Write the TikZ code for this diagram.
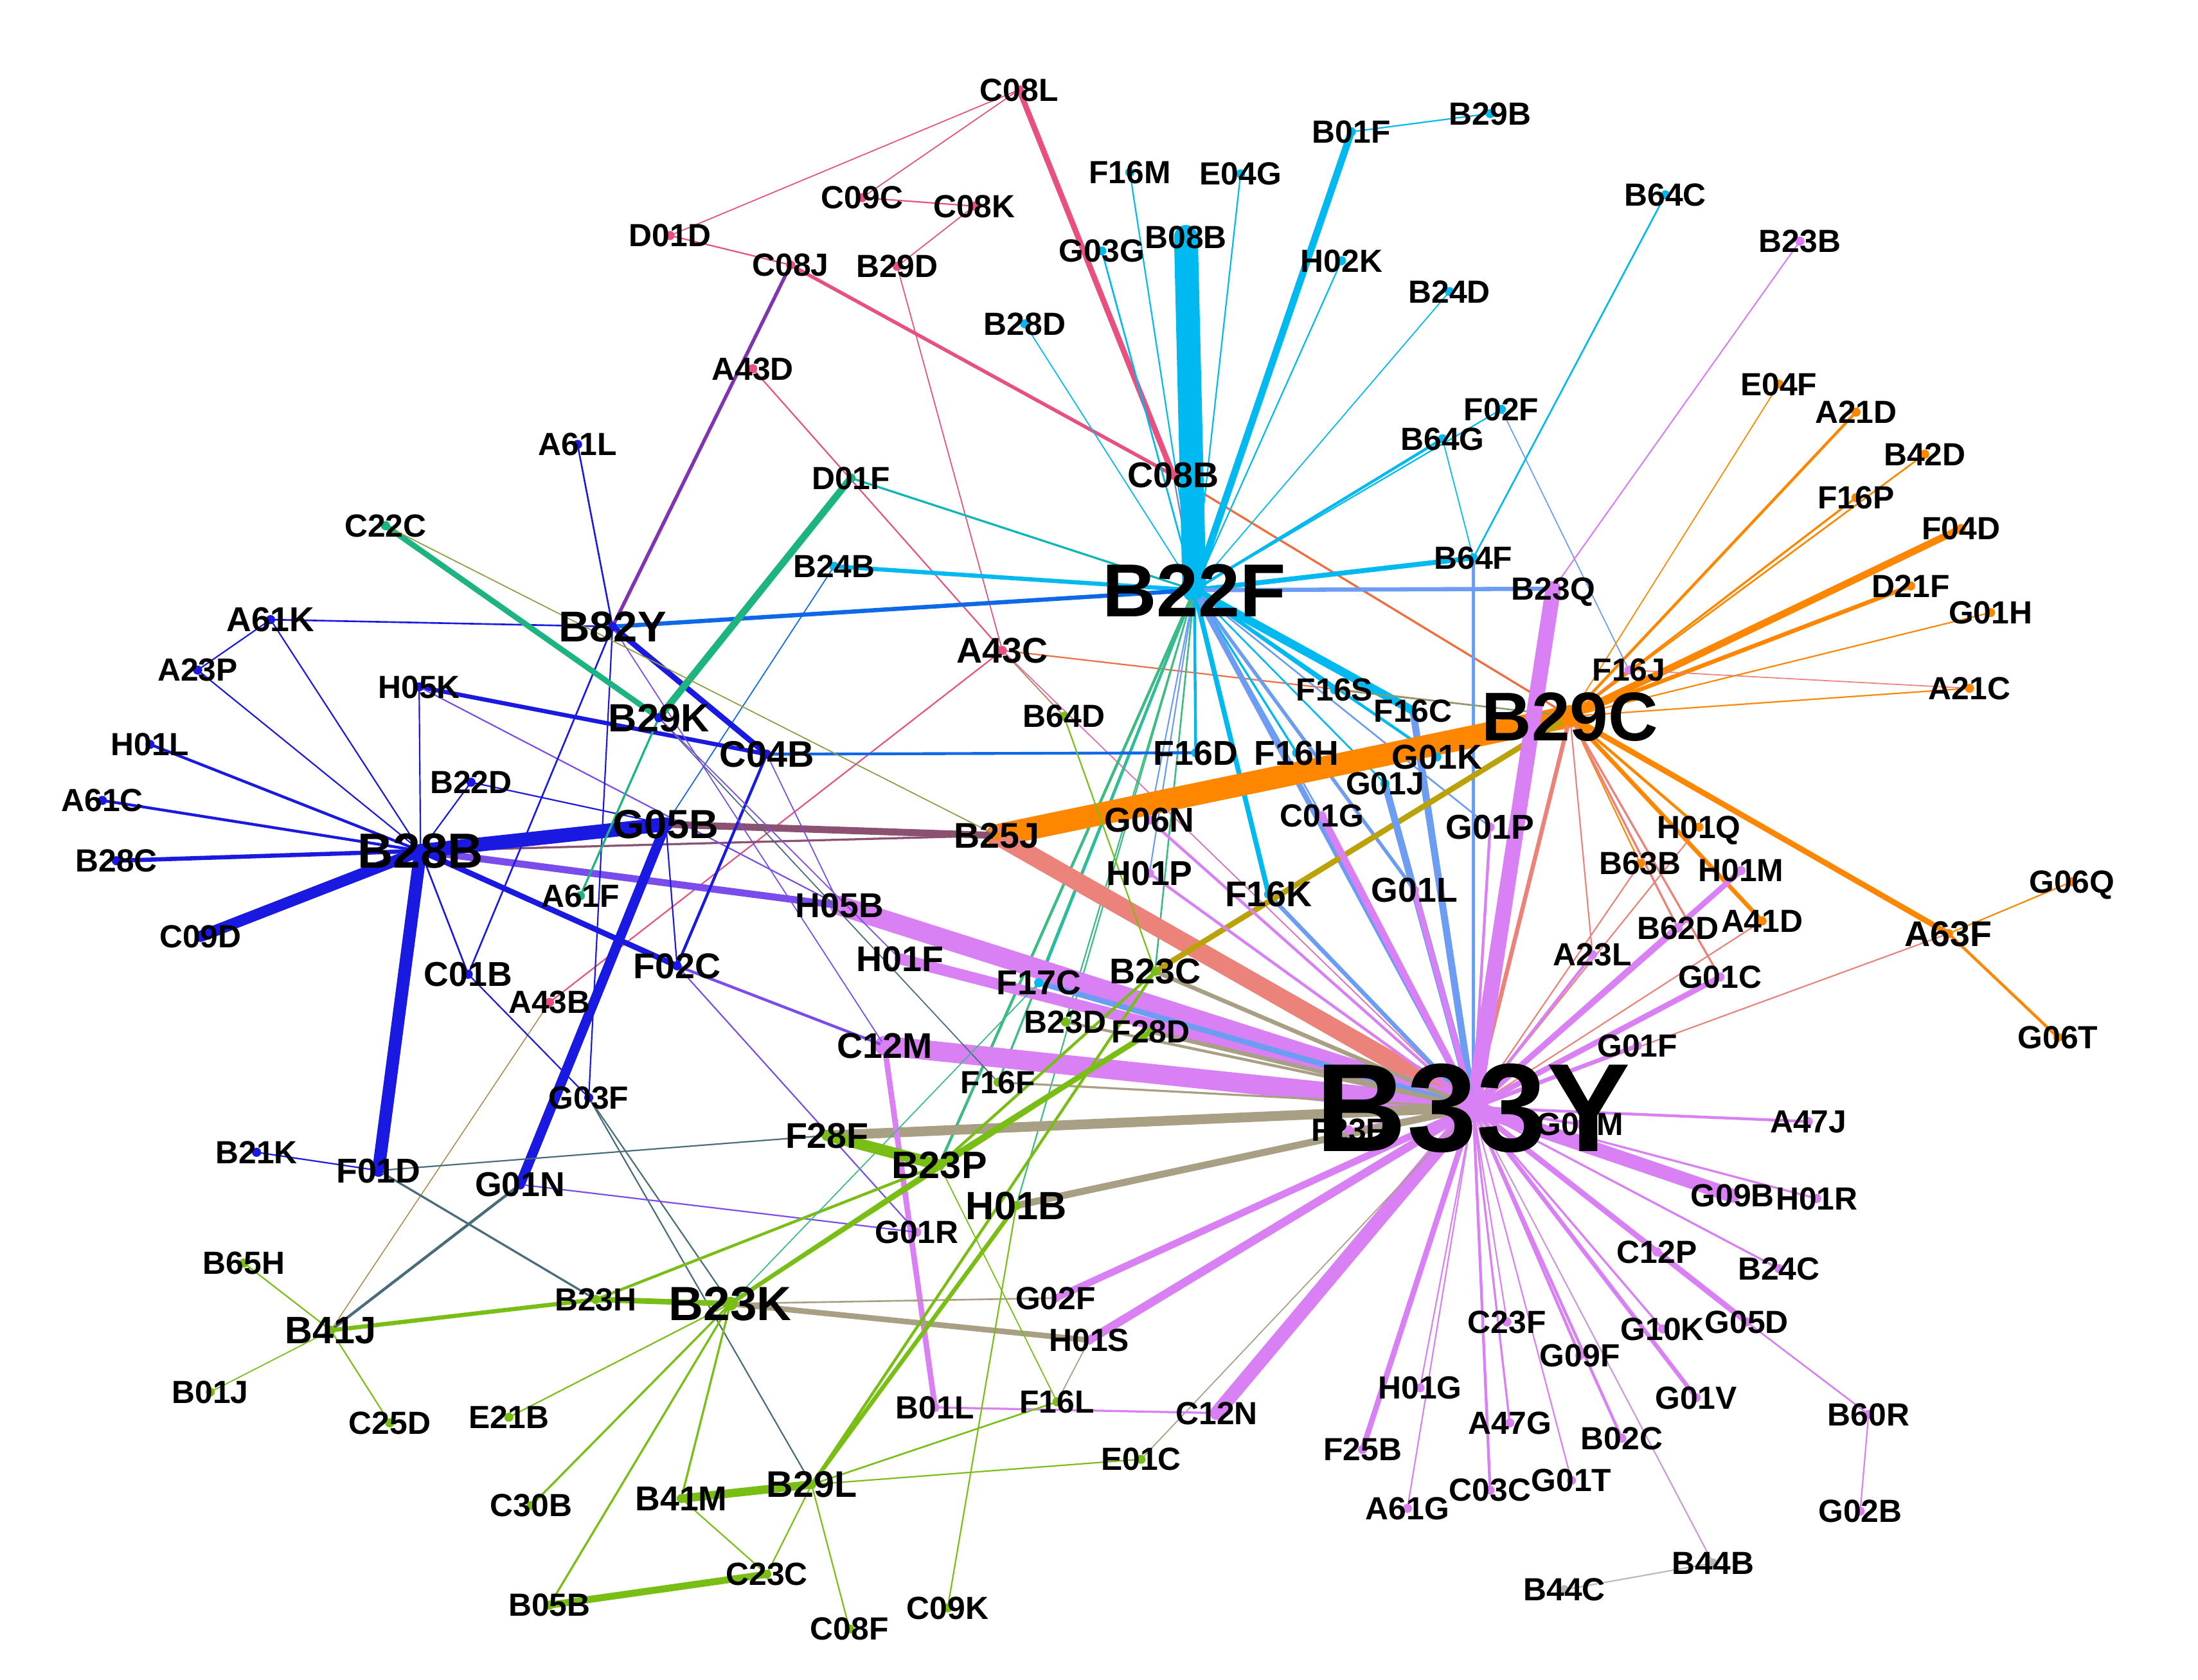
\documentclass[tikz,border=0pt]{standalone}
\usepackage{fontspec}
\setmainfont{Liberation Sans}
\definecolor{colCy}{RGB}{0,185,240}
\definecolor{colOr}{RGB}{255,135,0}
\definecolor{colVi}{RGB}{218,128,245}
\definecolor{colBl}{RGB}{25,25,225}
\definecolor{colGr}{RGB}{120,190,20}
\definecolor{colPk}{RGB}{232,80,125}
\definecolor{colTl}{RGB}{30,180,130}
\definecolor{colGy}{RGB}{185,185,185}
\pgfdeclarelayer{bgl}
\pgfdeclarelayer{edges}
\pgfdeclarelayer{dots}
\pgfsetlayers{bgl,edges,dots,main}
\tikzset{lbl/.style={inner sep=0pt, text depth=0pt, text=black}, link/.style={line cap=round}}
\newcommand\gnode[5][13]{%
  \node[lbl,font=\fontsize{#1}{#1}\selectfont\bfseries] (#2) at (#3,#4) {#2};%
  \expandafter\xdef\csname nc#2\endcsname{#5}%
  \begin{pgfonlayer}{dots}\fill[#5] (#2.center) circle[radius=0.065cm];\end{pgfonlayer}%
}
\newcommand\gedge[3]{%
  \edef\ecol{\csname nc#1\endcsname!50!\csname nc#2\endcsname}%
  \begin{pgfonlayer}{edges}\draw[link,line width=#3*0.02cm,draw=\ecol] (#1.center) -- (#2.center);\end{pgfonlayer}%
}
\newcommand\gedgec[4]{%
  \begin{pgfonlayer}{edges}\draw[link,line width=#3*0.02cm,draw=#4] (#1.center) -- (#2.center);\end{pgfonlayer}%
}
\newcommand\bigdot[3]{\begin{pgfonlayer}{dots}\fill[#3] (#1.center) circle[radius=#2*0.02cm];\end{pgfonlayer}}
\begin{document}
\begin{tikzpicture}[x=0.02cm,y=-0.02cm]
\begin{pgfonlayer}{bgl}
\fill[white] (0,0) rectangle (1568,1198);
\end{pgfonlayer}
\useasboundingbox (0,0) rectangle (1568,1198);
% ---------- nodes ----------
\gnode{C08L}{727}{64}{colPk}
\gnode{B29B}{1063}{81}{colCy}
\gnode{B01F}{964}{94}{colCy}
\gnode{F16M}{806}{123}{colCy}
\gnode{E04G}{885}{124}{colCy}
\gnode{C09C}{615}{141}{colPk}
\gnode{C08K}{695}{147}{colPk}
\gnode{B64C}{1188}{139}{colCy}
\gnode{D01D}{478}{168}{colPk}
\gnode{C08J}{564}{189}{colPk}
\gnode{B29D}{640}{190}{colPk}
\gnode{G03G}{786}{179}{colCy}
\gnode{B08B}{846}{169}{colCy}
\gnode{H02K}{957}{186}{colCy}
\gnode{B23B}{1284}{172}{colVi}
\gnode{B24D}{1034}{208}{colCy}
\gnode{B28D}{731}{231}{colCy}
\gnode{A43D}{537}{263}{colPk}
\gnode{E04F}{1269}{274}{colOr}
\gnode{A21D}{1324}{294}{colOr}
\gnode{F02F}{1071}{292}{colCy}
\gnode{B42D}{1373}{324}{colOr}
\gnode{B64G}{1029}{313}{colCy}
\gnode{A61L}{412}{317}{colBl}
\gnode{D01F}{607}{341}{colTl}
\gnode[14.5]{C08B}{837}{339}{colPk}
\gnode{F16P}{1324}{355}{colOr}
\gnode{F04D}{1399}{377}{colOr}
\gnode{C22C}{275}{375}{colTl}
\gnode{B24B}{595}{404}{colCy}
\gnode{B64F}{1051}{398}{colCy}
\gnode{B23Q}{1108}{420}{colVi}
\gnode{D21F}{1363}{418}{colOr}
\gnode{G01H}{1420}{437}{colOr}
\gnode[14]{A61K}{193}{442}{colBl}
\gnode[17.5]{B82Y}{437}{447}{colBl}
\gnode[14.5]{A43C}{715}{464}{colPk}
\gnode{A23P}{141}{478}{colBl}
\gnode{F16J}{1162}{478}{colVi}
\gnode{A21C}{1405}{491}{colOr}
\gnode{H05K}{299}{490}{colBl}
\gnode{F16S}{952}{492}{colCy}
\gnode[16]{B29K}{470}{512}{colBl}
\gnode{F16C}{1008}{507}{colCy}
\gnode{B64D}{759}{511}{colGr}
\gnode{H01L}{107}{531}{colBl}
\gnode[15]{C04B}{547}{538}{colBl}
\gnode[14]{F16D}{853}{537}{colCy}
\gnode[14]{F16H}{925}{537}{colCy}
\gnode[14]{G01K}{1025}{540}{colCy}
\gnode{B22D}{336}{558}{colBl}
\gnode{G01J}{988}{559}{colCy}
\gnode{A61C}{73}{571}{colBl}
\gnode[16.5]{G05B}{475}{588}{colBl}
\gnode[14]{G06N}{820}{585}{colVi}
\gnode{C01G}{943}{582}{colVi}
\gnode[14]{G01P}{1063}{590}{colVi}
\gnode[14.5]{B25J}{711}{596}{colOr}
\gnode{B28C}{83}{614}{colBl}
\gnode{H01Q}{1212}{590}{colOr}
\gnode{B63B}{1170}{616}{colOr}
\gnode{H01M}{1242}{621}{colVi}
\gnode[14]{H01P}{820}{623}{colVi}
\gnode[14.5]{F16K}{905}{638}{colCy}
\gnode[14]{G01L}{1009}{635}{colVi}
\gnode{A61F}{414}{639}{colTl}
\gnode[14]{H05B}{599}{646}{colVi}
\gnode{G06Q}{1478}{629}{colOr}
\gnode{C09D}{143}{668}{colBl}
\gnode{B62D}{1197}{662}{colVi}
\gnode{A41D}{1257}{657}{colOr}
\gnode[14.5]{A63F}{1390}{666}{colOr}
\gnode[14.5]{F02C}{483}{689}{colBl}
\gnode[14.5]{H01F}{642}{684}{colVi}
\gnode{A23L}{1136}{681}{colVi}
\gnode[14]{C01B}{334}{695}{colBl}
\gnode[14]{F17C}{741}{701}{colCy}
\gnode[14.5]{B23C}{824}{693}{colGr}
\gnode{G01C}{1227}{697}{colVi}
\gnode{A43B}{392}{715}{colPk}
\gnode{B23D}{760}{729}{colGr}
\gnode{F28D}{821}{736}{colGr}
\gnode{G06T}{1468}{740}{colOr}
\gnode[14.5]{C12M}{631}{746}{colVi}
\gnode{G01F}{1168}{746}{colVi}
\gnode{F16F}{712}{772}{colGr}
\gnode{G03F}{420}{783}{colBl}
\gnode{A47J}{1290}{800}{colVi}
\gnode{F23F}{962}{806}{colVi}
\gnode{G01M}{1127}{802}{colVi}
\gnode{B21K}{183}{822}{colBl}
\gnode[14]{F01D}{270}{835}{colBl}
\gnode[14.5]{F28F}{590}{810}{colGr}
\gnode[15.5]{B23P}{670}{831}{colGr}
\gnode[14]{G01N}{371}{845}{colBl}
\gnode[16]{H01B}{725}{860}{colGr}
\gnode{G09B}{1236}{853}{colVi}
\gnode{H01R}{1296}{855}{colVi}
\gnode{G01R}{654}{879}{colVi}
\gnode{B65H}{174}{901}{colGr}
\gnode{C12P}{1182}{893}{colVi}
\gnode{B24C}{1269}{905}{colVi}
\gnode{B23H}{425}{927}{colGr}
\gnode{G02F}{753}{926}{colVi}
\gnode[15.5]{B41J}{236}{949}{colGr}
\gnode{C23F}{1075}{943}{colVi}
\gnode{G10K}{1186}{948}{colVi}
\gnode{G05D}{1246}{943}{colVi}
\gnode{H01S}{777}{956}{colVi}
\gnode{G09F}{1127}{967}{colVi}
\gnode{B01J}{150}{993}{colGr}
\gnode{H01G}{1013}{990}{colVi}
\gnode{G01V}{1210}{997}{colVi}
\gnode{C25D}{278}{1015}{colGr}
\gnode{E21B}{363}{1011}{colGr}
\gnode{B01L}{667}{1004}{colVi}
\gnode{F16L}{754}{1000}{colGr}
\gnode{C12N}{868}{1008}{colVi}
\gnode{B60R}{1333}{1009}{colVi}
\gnode{A47G}{1077}{1015}{colVi}
\gnode{B02C}{1157}{1026}{colVi}
\gnode{F25B}{972}{1034}{colVi}
\gnode{E01C}{814}{1041}{colGr}
\gnode{C30B}{379}{1074}{colGr}
\gnode[14]{B41M}{486}{1069}{colGr}
\gnode[15]{B29L}{579}{1059}{colGr}
\gnode{A61G}{1004}{1076}{colVi}
\gnode{C03C}{1063}{1063}{colVi}
\gnode{G01T}{1121}{1056}{colVi}
\gnode{G02B}{1327}{1078}{colVi}
\gnode{B44B}{1222}{1115}{colGy}
\gnode{B44C}{1116}{1134}{colGy}
\gnode{C23C}{547}{1123}{colGr}
\gnode{B05B}{392}{1145}{colGr}
\gnode{C08F}{606}{1162}{colGr}
\gnode{C09K}{676}{1147}{colGr}
\gnode[20]{B28B}{300}{607}{colBl}
\gnode[19.5]{B23K}{521}{930}{colGr}
\gnode[28]{B29C}{1120}{511}{colOr}
\gnode[30.5]{B22F}{852}{421}{colCy}
\gnode[51]{B33Y}{1051}{790}{colVi}
\bigdot{B33Y}{11}{colVi}
\bigdot{B22F}{7}{colCy}
\bigdot{B29C}{7}{colOr}
\bigdot{B28B}{5}{colBl}
\bigdot{B23K}{5}{colGr}
% ---------- edges: pink ----------
\gedge{C08L}{D01D}{0.8}
\gedge{C08L}{C09C}{0.8}
\gedge{C08L}{C08B}{4}
\gedge{C09C}{C08K}{1}
\gedge{C08K}{B29D}{0.8}
\gedge{D01D}{C08J}{1}
\gedge{C08J}{C08B}{2.5}
\gedge{C08J}{B82Y}{2.5}
\gedge{B29D}{A43C}{0.8}
\gedge{A43D}{A43C}{1}
\gedge{C08B}{B29C}{1.5}
\gedge{C08B}{B22F}{1}
\gedge{A43C}{B29C}{1}
\gedge{A43C}{A43B}{1}
\gedge{A43B}{B41J}{0.7}
\gedge{A43C}{B64D}{0.8}
\gedge{A43C}{B33Y}{0.8}
% ---------- edges: cyan ----------
\gedge{B08B}{B22F}{17}
\gedge{B01F}{B22F}{5}
\gedge{B29B}{B01F}{1}
\gedge{F16M}{B22F}{1}
\gedge{E04G}{B22F}{1}
\gedge{G03G}{B22F}{1.2}
\gedge{H02K}{B22F}{1}
\gedge{B24D}{B22F}{0.8}
\gedge{B28D}{B22F}{0.8}
\gedge{B64G}{B22F}{2}
\gedge{F02F}{B22F}{1}
\gedge{F02F}{F16J}{0.8}
\gedge{B64F}{B22F}{3.5}
\gedge{B64C}{B64F}{1.2}
\gedge{B64G}{B64F}{0.8}
\gedge{B64F}{B33Y}{2}
\gedge{B23Q}{B22F}{3}
\gedge{B24B}{B22F}{3}
\gedge{D01F}{B22F}{1.5}
\gedge{B82Y}{B22F}{3}
\gedge{B24B}{G05B}{0.8}
\gedge{B22F}{F16S}{2}
\gedge{B22F}{F16C}{6}
\gedge{B22F}{F16D}{2}
\gedge{B22F}{F16H}{1.5}
\gedge{B22F}{G01K}{2}
\gedge{B22F}{G01J}{1.2}
\gedge{B22F}{C01G}{1.2}
\gedge{B22F}{G01P}{1.2}
\gedge{B22F}{G01L}{2.5}
\gedge{B22F}{F16K}{3.5}
\gedge{B22F}{B33Y}{4}
\gedge{B22F}{F17C}{2}
\gedge{B22F}{H01P}{1}
\gedge{B22F}{G06N}{1}
\gedge{B22F}{F16F}{1.5}
\gedge{B22F}{B23P}{2}
\gedge{B22F}{H01B}{1}
\gedge{B22F}{B23C}{1.2}
\gedge{B22F}{B23D}{1}
\gedge{F16C}{B33Y}{5}
\gedge{F16K}{B33Y}{3}
% ---------- edges: orange ----------
\gedge{B25J}{B29C}{16}
\gedge{B25J}{B33Y}{13}
\gedge{G05B}{B25J}{5}
\gedge{B28B}{B25J}{1.5}
\gedge{B29C}{F16J}{2}
\gedge{B29C}{E04F}{0.8}
\gedge{B29C}{A21D}{2}
\gedge{B29C}{F16P}{1.5}
\gedge{B29C}{B42D}{1.2}
\gedge{B29C}{F04D}{5}
\gedge{B29C}{D21F}{3}
\gedge{B29C}{G01H}{1}
\gedge{B29C}{A21C}{1}
\gedge{F16J}{A21C}{0.8}
\gedge{B29C}{H01Q}{2}
\gedge{B29C}{A41D}{3}
\gedge{B29C}{A63F}{4}
\gedge{B29C}{B63B}{1}
\gedge{B29C}{B62D}{1.5}
\gedge{B29C}{G01C}{1.5}
\gedge{B29C}{A23L}{1}
\gedge{B29C}{B33Y}{3}
\gedge{B29C}{F16S}{1}
\gedge{B29C}{B23C}{4}
\gedge{A63F}{G06Q}{1}
\gedge{A63F}{G06T}{2}
\gedge{A63F}{B33Y}{1}
\gedge{H01Q}{B33Y}{1}
\gedge{A41D}{B33Y}{1}
\gedge{B63B}{B33Y}{1}
% ---------- edges: violet ----------
\gedge{B23Q}{B33Y}{11}
\gedge{B23B}{B23Q}{1}
\gedge{H05B}{B33Y}{14}
\gedge{C12M}{B33Y}{14}
\gedge{H01F}{B33Y}{8}
\gedge{F17C}{B33Y}{4}
\gedge{B23D}{B33Y}{2}
\gedge{F28D}{B33Y}{3}
\gedge{B23C}{B33Y}{3}
\gedge{F16F}{B33Y}{1.5}
\gedge{H01P}{B33Y}{2}
\gedge{G06N}{B33Y}{2}
\gedge{C01G}{B33Y}{5}
\gedge{G01J}{B33Y}{5}
\gedge{G01L}{B33Y}{4}
\gedge{G01P}{B33Y}{2}
\gedge{A23L}{B33Y}{2}
\gedge{B62D}{B33Y}{4}
\gedge{H01M}{B33Y}{4}
\gedge{G01C}{B33Y}{4}
\gedge{G01F}{B33Y}{3}
\gedge{G01M}{B33Y}{2}
\gedge{F23F}{B33Y}{2}
\gedge{A47J}{B33Y}{2}
\gedge{G09B}{B33Y}{10}
\gedge{H01R}{B33Y}{1.5}
\gedge{C12P}{B33Y}{2}
\gedge{G05D}{B33Y}{4}
\gedge{B24C}{B33Y}{1.5}
\gedge{G10K}{B33Y}{1.5}
\gedge{G01V}{B33Y}{3}
\gedge{B02C}{B33Y}{2}
\gedge{G09F}{B33Y}{2}
\gedge{G01T}{B33Y}{1}
\gedge{A47G}{B33Y}{1.5}
\gedge{C03C}{B33Y}{2}
\gedge{C23F}{B33Y}{1}
\gedge{A61G}{B33Y}{1}
\gedge{H01G}{B33Y}{1}
\gedge{F25B}{B33Y}{4}
\gedge{C12N}{B33Y}{10}
\gedge{H01S}{B33Y}{6}
\gedge{G02F}{B33Y}{5}
\gedge{H01B}{B33Y}{5}
\gedge{F28F}{B33Y}{7}
\gedge{B44B}{B33Y}{1}
\gedge{B44B}{B44C}{1}
\gedge{G05D}{B60R}{1.2}
\gedge{B60R}{G02B}{1}
\gedge{E01C}{B33Y}{0.8}
\gedge{C12M}{B01L}{4}
\gedge{B01L}{C12N}{1.5}
\gedge{B28B}{H05B}{5}
% ---------- edges: blue ----------
\gedge{A61L}{B82Y}{1.2}
\gedge{A61K}{B82Y}{1.2}
\gedge{A61K}{A23P}{1}
\gedge{A61K}{B28B}{1}
\gedge{A23P}{B28B}{1}
\gedge{H01L}{B28B}{2}
\gedge{A61C}{B28B}{2}
\gedge{B28C}{B28B}{3}
\gedge{C09D}{B28B}{8}
\gedge{H05K}{B28B}{1}
\gedge{H05K}{C04B}{3}
\gedge{H05K}{H05B}{1}
\gedge{B22D}{B28B}{1}
\gedge{B22D}{G05B}{1}
\gedge{B28B}{G05B}{10}
\gedge{B28B}{F01D}{9}
\gedge{B28B}{C01B}{1.2}
\gedge{B28B}{F02C}{4}
\gedge{B82Y}{C04B}{4}
\gedge{B82Y}{C01B}{1.2}
\gedge{B82Y}{G03F}{1}
\gedge{C04B}{F16D}{2}
\gedge{C04B}{F02C}{2}
\gedge{G05B}{G01N}{7}
\gedge{G05B}{F02C}{1}
\gedge{F02C}{C12M}{2}
\gedge{F02C}{G01R}{1}
\gedge{C01B}{G03F}{1}
\gedge{G03F}{B23K}{1}
\gedge{G03F}{B29L}{1}
\gedge{F01D}{B21K}{1}
\gedge{F01D}{B23H}{1.5}
\gedge{F01D}{F28F}{1}
\gedge{G01N}{G01R}{1}
\gedge{G01N}{B41J}{2}
\gedge{C04B}{H05B}{0.8}
\gedge{B29K}{F16F}{0.8}
\gedge{B82Y}{C12M}{0.8}
\gedge{B29K}{H01F}{0.8}
% ---------- edges: teal ----------
\gedgec{D01F}{B29K}{5}{colTl}
\gedgec{C22C}{B29K}{4}{colTl}
\gedgec{B29K}{A61F}{1.5}{colTl}
\gedge{C22C}{B25J}{0.8}
% ---------- edges: green ----------
\gedge{B23K}{B23H}{4}
\gedge{B23H}{B41J}{3}
\gedge{B41J}{B65H}{1}
\gedge{B41J}{B01J}{0.8}
\gedge{B41J}{C25D}{1}
\gedge{B23K}{E21B}{1}
\gedge{B23K}{C30B}{1.5}
\gedge{B23K}{B41M}{1.5}
\gedge{B23K}{B05B}{1.5}
\gedge{B23K}{B23P}{3}
\gedge{B23K}{F28D}{2}
\gedge{B23H}{B23P}{2}
\gedge{B23K}{G02F}{1.2}
\gedge{B23K}{H01S}{4}
\gedge{B23K}{F17C}{0.8}
\gedge{B41M}{B29L}{6}
\gedge{B41M}{C23C}{1}
\gedge{B05B}{C23C}{5}
\gedge{C23C}{B29L}{1}
\gedge{B29L}{C08F}{1}
\gedge{B29L}{F16L}{1.2}
\gedge{B29L}{E01C}{1}
\gedge{B29L}{H01B}{3}
\gedge{B29L}{B23C}{2}
\gedge{C09K}{H01B}{1}
\gedge{F16L}{H01S}{0.8}
\gedge{F16L}{B23P}{0.8}
\gedge{F28F}{B23P}{8}
\gedge{B23P}{F28D}{4}
\gedge{B23P}{B23C}{2}
\gedge{B64D}{B23C}{1}
\end{tikzpicture}
\end{document}
